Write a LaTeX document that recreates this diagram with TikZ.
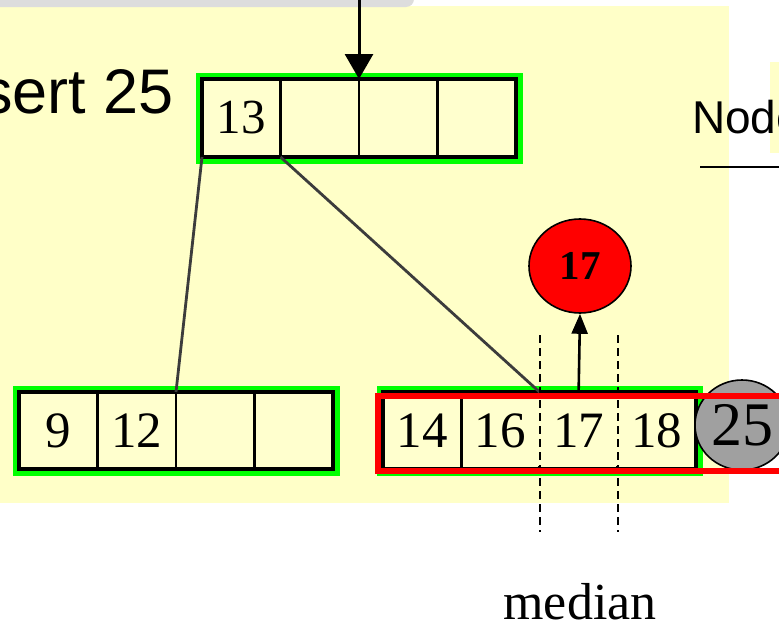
\documentclass[tikz,border=0pt]{standalone}
\usepackage{fontspec}
\setmainfont{Liberation Serif}
\newfontfamily\arialf{Liberation Sans}
\usetikzlibrary{arrows.meta,shapes.geometric,calc,backgrounds}
\definecolor{bgyellow}{RGB}{255,255,200}
\definecolor{cellyellow}{RGB}{255,255,206}
\definecolor{glowgreen}{RGB}{0,255,0}
\definecolor{bargray}{RGB}{221,221,221}
\definecolor{linkgray}{RGB}{60,60,60}
\definecolor{ballgray}{RGB}{160,160,160}
\tikzset{
  cell/.style={draw=black, line width=2.6pt, fill=cellyellow, minimum width=78.5pt,
    minimum height=78pt, inner sep=0pt, outer sep=0pt, anchor=north west,
    font=\fontsize{49}{52}\selectfont},
  lowcell/.style={cell, minimum height=77pt, font=\fontsize{51}{54}\selectfont},
  glow/.style={draw=glowgreen, line width=13pt},
  frame/.style={draw=black, line width=3.4pt},
  link/.style={draw=linkgray, line width=2.8pt},
  medline/.style={draw=black, line width=2pt, dash pattern=on 8pt off 5pt},
  gapline/.style={draw=cellyellow, line width=3pt},
  downarrow/.style={draw=black, line width=3pt, -{Triangle[width=28pt,length=25pt]}},
  uparrow/.style={draw=black, line width=2.6pt, -{Triangle[width=16pt,length=20pt]}},
  ball/.style={ellipse, draw=black, line width=1.6pt, inner sep=0pt},
  sanslabel/.style={inner sep=0pt, font=\arialf\fontsize{63}{70}\selectfont},
}
\begin{document}
\begin{tikzpicture}[x=1pt,y=-1pt]
\useasboundingbox (0,0) rectangle (779,629);
\clip (0,0) rectangle (779,629);

% top node
\node[cell] (t1) at (202,79) {13};
\node[cell] (t2) at (t1.north east) {};
\node[cell] (t3) at (t2.north east) {};
\node[cell] (t4) at (t3.north east) {};

% bottom left node
\node[lowcell] (b1) at (19,392) {9};
\node[lowcell] (b2) at (b1.north east) {12};
\node[lowcell] (b3) at (b2.north east) {};
\node[lowcell] (b4) at (b3.north east) {};

% bottom right node
\node[lowcell, minimum width=78.25pt] (r1) at (383,392) {14};
\node[lowcell, minimum width=78.25pt] (r2) at (r1.north east) {16};
\node[lowcell, minimum width=78.25pt] (r3) at (r2.north east) {17};
\node[lowcell, minimum width=78.25pt] (r4) at (r3.north east) {18};

\draw[frame] (t1.north west) rectangle (t4.south east);
\draw[frame] (b1.north west) rectangle (b4.south east);
\draw[frame] (r1.north west) rectangle (r4.south east);

\begin{pgfonlayer}{background}
  \fill[bgyellow] (0,6) rectangle (729,503);
  \fill[bgyellow] (770,62) rectangle (790,153);
  \fill[bargray, rounded corners=8pt] (-20,-20) rectangle (414,7);
  \draw[glow] (t1.north west) rectangle (t4.south east);
  \draw[glow] (b1.north west) rectangle (b4.south east);
  \draw[glow] (r1.north west) rectangle (r4.south east);
\end{pgfonlayer}

% labels
\node[sanslabel, anchor=base east] (ins) at (174,113) {sert 25};
\node[inner sep=0pt, anchor=base west, font=\arialf\fontsize{46}{50}\selectfont] (nodelbl) at (692,133) {Node};
\coordinate (ulA) at (700,167);
\coordinate (ulB) at (790,167);
\draw[black, line width=2pt] (ulA) -- (ulB);

% connectors
\coordinate (topin) at (359,-5);
\draw[downarrow] (topin) -- (t3.north west);
\draw[link] (t1.south west) -- (b3.north west);
\draw[link] (t2.south west) -- (r3.north west);

% promoted key
\node[ball, fill=red, minimum width=102pt, minimum height=94pt,
  font=\bfseries\fontsize{41}{44}\selectfont] (red17) at (580,266) {17};
\draw[uparrow] (r3.north) -- (red17.south);

% new key
\node[ball, fill=ballgray, minimum width=94pt, minimum height=90pt,
  font=\fontsize{62}{66}\selectfont] (g25) at (742,425) {25};

% median lines
\coordinate (dtop) at (0,335);
\coordinate (dbot) at (0,532);
\draw[gapline] ($(r3.north west)+(0,3)$) -- ($(r3.south west)+(0,-3)$);
\draw[gapline] ($(r4.north west)+(0,3)$) -- ($(r4.south west)+(0,-3)$);
\draw[medline] (r3.north west |- dtop) -- (r3.north west |- dbot);
\draw[medline] (r4.north west |- dtop) -- (r4.north west |- dbot);

% overflow frame
\coordinate (redA) at ($(r1.north west)+(-5,4)$);
\coordinate (redB) at (800,471);
\draw[red, line width=6pt] (redA) rectangle (redB);

\node[inner sep=0pt, anchor=base, font=\fontsize{52}{56}\selectfont] (medlbl) at (580,619) {median};
\end{tikzpicture}
\end{document}
